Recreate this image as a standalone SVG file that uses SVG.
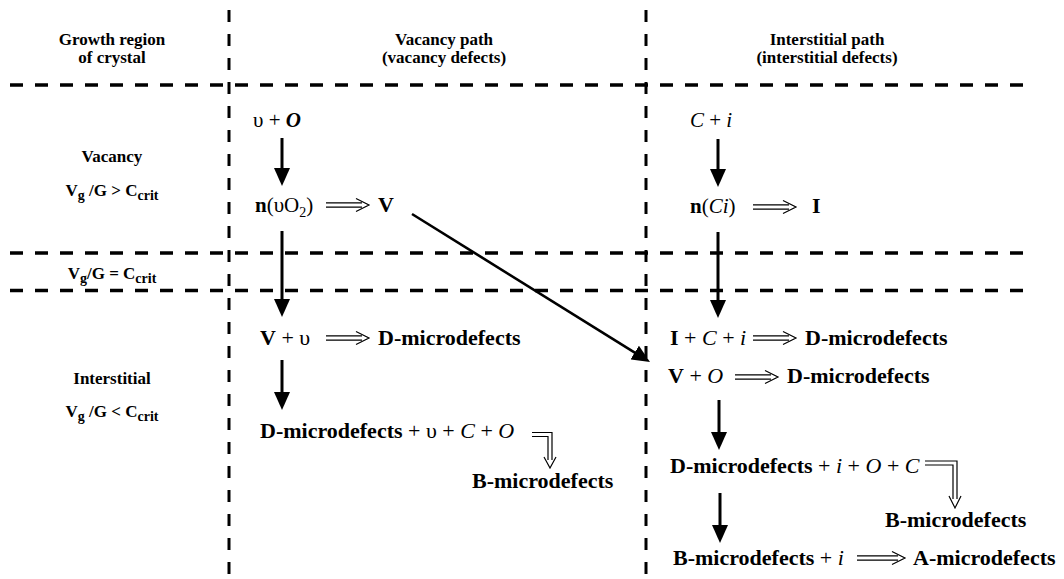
<svg xmlns="http://www.w3.org/2000/svg" width="1064" height="579" viewBox="0 0 1064 579">
<style>
text{font-family:"Liberation Serif","Times New Roman",serif;fill:#000}
.h{font-size:17px;font-weight:bold}
.t{font-size:22px}
.b{font-weight:bold}
.i{font-style:italic}
.s{font-size:14px}
.grid line{stroke:#000;fill:none}
.hd{stroke-width:3.5;stroke-dasharray:13 12}
.vd{stroke-width:3;stroke-dasharray:12 12}
.arr{stroke:#000;stroke-width:3;fill:none;marker-end:url(#ah)}
.dbl{stroke:#000;stroke-width:1.2;fill:none}
</style>
<defs>
<marker id="ah" viewBox="0 0 18 16" refX="10" refY="8" markerWidth="18" markerHeight="16" markerUnits="userSpaceOnUse" orient="auto">
<path d="M0,0 L18,8 L0,16 z" fill="#000"/>
</marker>
<path id="dblarrow" class="dbl" d="M0,-2.2 H36 M0,2.2 H36 M30,-6.5 L43,0 L30,6.5"/>
</defs>
<rect width="1064" height="579" fill="#fff"/>
<g class="grid">
<line class="hd" x1="10" y1="85" x2="1030" y2="85"/>
<line class="hd" x1="10" y1="253" x2="1030" y2="253"/>
<line class="hd" x1="10" y1="290.5" x2="1030" y2="290.5"/>
<line class="vd" x1="229" y1="10" x2="229" y2="579"/>
<line class="vd" x1="646" y1="10" x2="646" y2="579"/>
</g>
<g id="head-growth">
<text class="h" x="112" y="45" text-anchor="middle">Growth region</text>
<text class="h" x="112" y="63" text-anchor="middle">of crystal</text>
</g>
<g id="head-vacancy">
<text class="h" x="444" y="45" text-anchor="middle">Vacancy path</text>
<text class="h" x="444" y="63" text-anchor="middle">(vacancy defects)</text>
</g>
<g id="head-interstitial">
<text class="h" x="827" y="45" text-anchor="middle">Interstitial path</text>
<text class="h" x="827" y="63" text-anchor="middle">(interstitial defects)</text>
</g>
<g id="region-vacancy">
<text class="h" x="112" y="162" text-anchor="middle">Vacancy</text>
<text class="h" x="112" y="196" text-anchor="middle">V<tspan class="s" dy="4">g</tspan><tspan dy="-4"> /G &gt; C</tspan><tspan class="s" dy="4">crit</tspan></text>
</g>
<g id="region-critical">
<text class="h" x="112" y="279" text-anchor="middle">V<tspan class="s" dy="4">g</tspan><tspan dy="-4">/G = C</tspan><tspan class="s" dy="4">crit</tspan></text>
</g>
<g id="region-interstitial">
<text class="h" x="112" y="384" text-anchor="middle">Interstitial</text>
<text class="h" x="112" y="417" text-anchor="middle">V<tspan class="s" dy="4">g</tspan><tspan dy="-4"> /G &lt; C</tspan><tspan class="s" dy="4">crit</tspan></text>
</g>
<g id="v-start">
<text class="t" x="253" y="127" style="font-size:21px">υ + <tspan class="i b">O</tspan></text>
</g>
<g id="v-cluster">
<text class="t" x="255" y="212" style="font-size:21px"><tspan class="b">n</tspan>(υO<tspan style="font-size:14px" dy="5">2</tspan><tspan dy="-5">)</tspan></text>
</g>
<g id="v-V">
<text class="t b" x="378" y="212">V</text>
</g>
<g id="v-d">
<text class="t" x="260" y="345"><tspan class="b">V</tspan> + υ</text>
<text class="t b" x="378" y="345">D-microdefects</text>
</g>
<g id="v-b">
<text class="t" x="260" y="438"><tspan class="b">D-microdefects</tspan> + υ + <tspan class="i">C</tspan> + <tspan class="i">O</tspan></text>
<text class="t b" x="472" y="488">B-microdefects</text>
</g>
<g id="i-start">
<text class="t" x="690" y="127" style="font-size:21px"><tspan class="i">C</tspan> + <tspan class="i">i</tspan></text>
</g>
<g id="i-cluster">
<text class="t" x="690" y="213" style="font-size:21px"><tspan class="b">n</tspan>(<tspan class="i">Ci</tspan>)</text>
</g>
<g id="i-I">
<text class="t b" x="812" y="213">I</text>
</g>
<g id="i-d1">
<text class="t" x="670" y="345"><tspan class="b">I</tspan> + <tspan class="i">C</tspan> + <tspan class="i">i</tspan></text>
<text class="t b" x="805" y="345">D-microdefects</text>
</g>
<g id="i-d2">
<text class="t" x="668" y="383"><tspan class="b">V</tspan> + <tspan class="i">O</tspan></text>
<text class="t b" x="787" y="383">D-microdefects</text>
</g>
<g id="i-b">
<text class="t" x="670" y="473"><tspan class="b">D-microdefects</tspan> + <tspan class="i">i</tspan> + <tspan class="i">O</tspan> + <tspan class="i">C</tspan></text>
<text class="t b" x="885" y="527">B-microdefects</text>
</g>
<g id="i-a">
<text class="t" x="673" y="565"><tspan class="b">B-microdefects</tspan> + <tspan class="i">i</tspan></text>
<text class="t b" x="913" y="565">A-microdefects</text>
</g>
<g id="connectors">
<line class="arr" x1="282" y1="138" x2="282" y2="178"/>
<line class="arr" x1="282" y1="231" x2="282" y2="309"/>
<line class="arr" x1="282" y1="360" x2="282" y2="402"/>
<line class="arr" x1="718" y1="139" x2="718" y2="179"/>
<line class="arr" x1="718" y1="232" x2="718" y2="310"/>
<line class="arr" x1="719" y1="400" x2="719" y2="442"/>
<line class="arr" x1="720" y1="493" x2="720" y2="535"/>
<line class="arr" style="stroke-width:2.6" x1="412" y1="214" x2="643.2" y2="357.8"/>
<use href="#dblarrow" x="326" y="205"/>
<use href="#dblarrow" x="326" y="338"/>
<use href="#dblarrow" x="753" y="207"/>
<use href="#dblarrow" x="753" y="338"/>
<use href="#dblarrow" x="735" y="377"/>
<path class="dbl" d="M857,555.8 H898 M857,560.2 H898 M892,551.5 L905,558 L892,564.5"/>
<path class="dbl" d="M532,432.5 H552 V460 M532,436.5 H548 V460 M544,457 L550,468 L556,457"/>
<path class="dbl" d="M925,461 H957 V499 M925,465 H953 V499 M949,496 L955,508 L961,496"/>
</g>
</svg>
